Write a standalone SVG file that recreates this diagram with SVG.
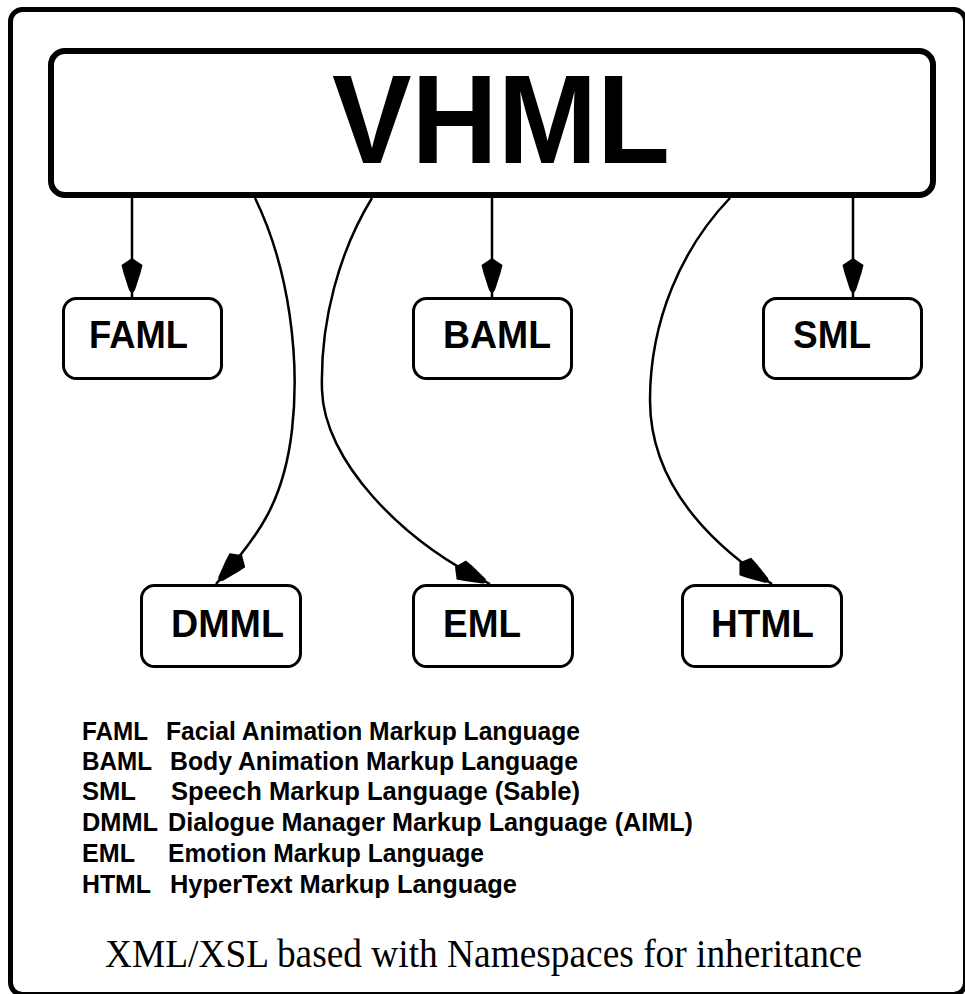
<svg xmlns="http://www.w3.org/2000/svg" width="965" height="994" viewBox="0 0 965 994">
<defs>
<style>
.frame{fill:none;stroke:#000;stroke-width:5}
.main{fill:#fff;stroke:#000;stroke-width:6}
.box{fill:#fff;stroke:#000;stroke-width:3}
.lbl{font-family:"Liberation Sans",Arial,sans-serif;font-weight:bold;font-size:38px;fill:#000}
.big{font-family:"Liberation Sans",Arial,sans-serif;font-weight:bold;font-size:126px;fill:#000}
.leg{font-family:"Liberation Sans",Arial,sans-serif;font-weight:bold;font-size:25px;fill:#000}
.foot{font-family:"Liberation Serif","Times New Roman",serif;font-size:40px;fill:#000}
.con{fill:none;stroke:#000;stroke-width:2.5}
</style>
<marker id="kite" markerUnits="userSpaceOnUse" orient="auto" markerWidth="50" markerHeight="30" refX="0" refY="0" viewBox="-45 -15 50 30" overflow="visible">
<polygon points="-39,0 -32,-10.5 -24,-8.5 -7,-3 -3,0 -7,3 -24,8.5 -32,10.5" fill="#000"/>
</marker>
</defs>
<rect class="frame" x="10.5" y="9.5" width="955" height="985" rx="12"/>
<g id="connectors">
<path class="con" d="M132,198 V297" marker-end="url(#kite)"/>
<path class="con" d="M492,198 V297" marker-end="url(#kite)"/>
<path class="con" d="M853,198 V297" marker-end="url(#kite)"/>
<path class="con" d="M255,198 C290,270 300,360 292,430 C284,500 260,535 216,584" marker-end="url(#kite)"/>
<path class="con" d="M372,198 C340,250 320,320 322,390 C324,460 400,540 490,584" marker-end="url(#kite)"/>
<path class="con" d="M730,198 C682,248 650,320 650,400 C650,480 705,540 772,584" marker-end="url(#kite)"/>
</g>
<g id="vhml">
<rect class="main" x="51" y="51" width="882" height="144" rx="14"/>
<text class="big" x="332" y="163" textLength="338" lengthAdjust="spacingAndGlyphs">VHML</text>
</g>
<g id="faml">
<rect class="box" x="63.5" y="298.5" width="158" height="80" rx="13"/>
<text class="lbl" x="89" y="348" textLength="99" lengthAdjust="spacingAndGlyphs">FAML</text>
</g>
<g id="baml">
<rect class="box" x="413.5" y="298.5" width="158" height="80" rx="13"/>
<text class="lbl" x="443" y="348" textLength="108" lengthAdjust="spacingAndGlyphs">BAML</text>
</g>
<g id="sml">
<rect class="box" x="763.5" y="298.5" width="158" height="80" rx="13"/>
<text class="lbl" x="793" y="348" textLength="78" lengthAdjust="spacingAndGlyphs">SML</text>
</g>
<g id="dmml">
<rect class="box" x="141.5" y="585.5" width="159" height="81" rx="13"/>
<text class="lbl" x="171" y="637" textLength="113" lengthAdjust="spacingAndGlyphs">DMML</text>
</g>
<g id="eml">
<rect class="box" x="413.5" y="585.5" width="159" height="81" rx="13"/>
<text class="lbl" x="443" y="637" textLength="78" lengthAdjust="spacingAndGlyphs">EML</text>
</g>
<g id="html">
<rect class="box" x="682.5" y="585.5" width="159" height="81" rx="13"/>
<text class="lbl" x="711" y="637" textLength="103" lengthAdjust="spacingAndGlyphs">HTML</text>
</g>
<g id="legend">
<text class="leg" x="82" y="740" textLength="66" lengthAdjust="spacingAndGlyphs">FAML</text>
<text class="leg" x="166" y="740" textLength="414" lengthAdjust="spacingAndGlyphs">Facial Animation Markup Language</text>
<text class="leg" x="82" y="770" textLength="70" lengthAdjust="spacingAndGlyphs">BAML</text>
<text class="leg" x="170" y="770" textLength="408" lengthAdjust="spacingAndGlyphs">Body Animation Markup Language</text>
<text class="leg" x="82" y="800" textLength="54" lengthAdjust="spacingAndGlyphs">SML</text>
<text class="leg" x="171" y="800" textLength="409" lengthAdjust="spacingAndGlyphs">Speech Markup Language (Sable)</text>
<text class="leg" x="82" y="831" textLength="76" lengthAdjust="spacingAndGlyphs">DMML</text>
<text class="leg" x="168" y="831" textLength="525" lengthAdjust="spacingAndGlyphs">Dialogue Manager Markup Language (AIML)</text>
<text class="leg" x="82" y="862" textLength="53" lengthAdjust="spacingAndGlyphs">EML</text>
<text class="leg" x="168" y="862" textLength="316" lengthAdjust="spacingAndGlyphs">Emotion Markup Language</text>
<text class="leg" x="82" y="893" textLength="69" lengthAdjust="spacingAndGlyphs">HTML</text>
<text class="leg" x="170" y="893" textLength="347" lengthAdjust="spacingAndGlyphs">HyperText Markup Language</text>
</g>
<text class="foot" x="105" y="967" textLength="757" lengthAdjust="spacingAndGlyphs">XML/XSL based with Namespaces for inheritance</text>
</svg>
